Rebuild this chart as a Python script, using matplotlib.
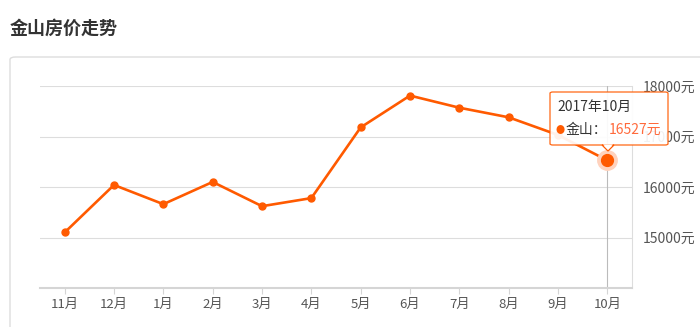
import matplotlib.pyplot as plt
from matplotlib.patches import FancyBboxPatch, Polygon
import numpy as np

plt.rcParams['font.family'] = ['Noto Sans CJK SC', 'DejaVu Sans']

months = ['11月', '12月', '1月', '2月', '3月', '4月', '5月', '6月', '7月', '8月', '9月', '10月']
prices = [15100, 16040, 15660, 16100, 15620, 15780, 17180, 17810, 17570, 17380, 17030, 16527]
y_ticks = [15000, 16000, 17000, 18000]
y_labels = ['15000元', '16000元', '17000元', '18000元']

LINE = '#ff5a00'
W, H = 700, 327

fig = plt.figure(figsize=(7, 3.27), dpi=100)


def fx(px):
    return px / W


def fy(py):
    return 1 - py / H


# card panel behind the chart
panel = FancyBboxPatch((fx(10), fy(340)), fx(720) - fx(10), fy(57) - fy(340),
                       boxstyle='round,pad=0,rounding_size=0.008', transform=fig.transFigure,
                       facecolor='white', edgecolor='#dddddd', linewidth=1, zorder=-5)
fig.patches.append(panel)

fig.text(fx(10), fy(28), '金山房价走势', fontsize=13, fontweight='bold', color='#333333',
         va='center', ha='left')

ax = fig.add_axes([fx(40), fy(288), fx(632) - fx(40), fy(86) - fy(288)])
ax.set_zorder(1)
ax.set_facecolor('none')
x = np.arange(len(months))
ax.set_xlim(-0.5, len(months) - 0.5)
ax.set_ylim(14000, 18000)

for t in y_ticks:
    ax.axhline(t, color='#dddddd', linewidth=0.8, zorder=1)
ax.axvline(x[-1], color='#bbbbbb', linewidth=0.8, zorder=1)

for s in ['top', 'left']:
    ax.spines[s].set_visible(False)
ax.spines['right'].set_color('#dddddd')
ax.spines['right'].set_linewidth(0.8)
ax.spines['bottom'].set_color('#d5d5d5')
ax.spines['bottom'].set_linewidth(1.5)

ax.plot(x, prices, color=LINE, linewidth=1.9, marker='o', markersize=5,
        markerfacecolor=LINE, markeredgecolor=LINE, zorder=3)
# highlighted last point
ax.plot(x[-1], prices[-1], 'o', markersize=14, color='#ffd2bd', zorder=4)
ax.plot(x[-1], prices[-1], 'o', markersize=8.5, color=LINE, zorder=5)

ax.set_xticks(x)
ax.set_xticklabels(months)
ax.tick_params(axis='x', length=4, color='#d5d5d5', labelcolor='#555555', labelsize=9.5, pad=3)
ax.yaxis.tick_right()
ax.set_yticks(y_ticks)
ax.set_yticklabels(y_labels)
ax.tick_params(axis='y', length=0, labelcolor='#555555', labelsize=10, pad=8)

# tooltip
tip = FancyBboxPatch((fx(550), fy(145)), fx(668) - fx(550), fy(92) - fy(145),
                     boxstyle='round,pad=0,rounding_size=0.004', transform=fig.transFigure,
                     facecolor='white', edgecolor=LINE, linewidth=0.9, alpha=0.92, zorder=10)
fig.patches.append(tip)
arrow = Polygon([[fx(602), fy(145)], [fx(608), fy(151)], [fx(614), fy(145)]], closed=True,
                transform=fig.transFigure, facecolor='white', edgecolor=LINE, linewidth=0.9,
                zorder=11)
fig.patches.append(arrow)
fig.patches.append(Polygon([[fx(603), fy(144.3)], [fx(608), fy(149.5)], [fx(613), fy(144.3)]],
                           closed=True, transform=fig.transFigure, facecolor='white',
                           edgecolor='none', zorder=12))
fig.text(fx(557), fy(107), '2017年10月', fontsize=10, color='#333333', va='center', zorder=13)
fig.text(fx(560), fy(130), '●', fontsize=6.5, color=LINE, va='center', ha='center', zorder=13)
fig.text(fx(566), fy(130), '金山：', fontsize=10, color='#333333', va='center', zorder=13)
fig.text(fx(609), fy(130), '16527元', fontsize=10, color='#ff6a3c', va='center', zorder=13)

fig.savefig('out.png', dpi=100)
